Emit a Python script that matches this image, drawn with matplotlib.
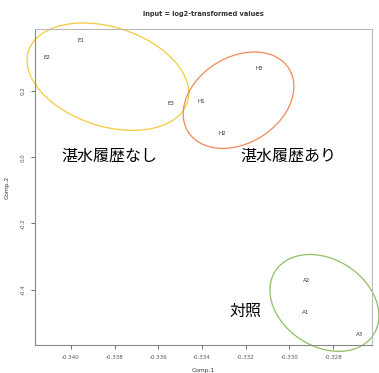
import matplotlib
matplotlib.use("Agg")
import matplotlib.pyplot as plt
from matplotlib.patches import Ellipse
from matplotlib.transforms import ScaledTranslation

# sample scores on the first two components
samples = ["E1", "E2", "E3", "H1", "H2", "H3", "A1", "A2", "A3"]
comp1 = [-0.33954, -0.34108, -0.33544, -0.33404, -0.33308, -0.33136, -0.32926, -0.32921, -0.32681]
comp2 = [0.351, 0.302, 0.161, 0.167, 0.070, 0.269, -0.469, -0.373, -0.534]

# group outlines: centre (data units), axes (pixels), tilt (degrees)
group_names = ["湛水履歴なし", "湛水履歴あり", "対照"]
group_cx = [-0.33831, -0.33233, -0.32840]
group_cy = [0.243, 0.172, -0.440]
group_w = [167, 119, 117]
group_h = [99, 86, 87]
group_angle = [-18, 32, -33]
group_colors = ["#f8c93e", "#ee8a57", "#8dc065"]

# where the group names are written
name_x = [-0.33826, -0.33007, -0.33199]
name_y = [0.003, 0.003, -0.467]

xticks = [-0.340, -0.338, -0.336, -0.334, -0.332, -0.330, -0.328]
yticks = [-0.4, -0.2, 0.0, 0.2]

fig = plt.figure(figsize=(3.79, 3.73), dpi=100)
ax = fig.add_axes([0.0923, 0.0751, 0.8892, 0.8472])

for s, x, y in zip(samples, comp1, comp2):
    ax.text(x, y, s, fontsize=4, color="#333333", ha="center", va="center")

for cx, cy, w, h, ang, col in zip(group_cx, group_cy, group_w, group_h, group_angle, group_colors):
    tr = fig.dpi_scale_trans + ScaledTranslation(cx, cy, ax.transData)
    e = Ellipse((0, 0), w / 100, h / 100, angle=ang, transform=tr,
                fill=False, edgecolor=col, linewidth=0.9, clip_on=False)
    ax.add_patch(e)

for name, x, y in zip(group_names, name_x, name_y):
    ax.text(x, y, name, fontsize=11.5, family=["Noto Sans CJK JP", "DejaVu Sans"],
            ha="center", va="center", color="black")

ax.set_xlim(-0.34165, -0.32622)
ax.set_ylim(-0.567, 0.387)
ax.set_xticks(xticks)
ax.set_xticklabels(["%.3f" % t for t in xticks])
ax.set_yticks(yticks)
ax.set_yticklabels(["%.1f" % t for t in yticks], rotation=90, va="center")
ax.tick_params(labelsize=4, colors="#555555", length=3, width=0.6, pad=4)

for side, sp in ax.spines.items():
    sp.set_linewidth(0.8)
    sp.set_color("#888888" if side in ("left", "bottom") else "#bbbbbb")

ax.set_xlabel("Comp.1", fontsize=4.3, color="#333333", labelpad=6)
ax.set_ylabel("Comp.2", fontsize=4.3, color="#333333", labelpad=8)
ax.set_title("input = log2-transformed values", fontsize=4.8, fontweight="bold",
             color="#333333", pad=9)

fig.savefig("out.png", dpi=100)
